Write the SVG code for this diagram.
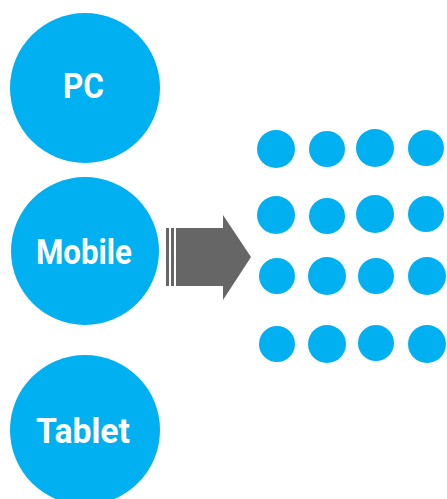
<svg xmlns="http://www.w3.org/2000/svg" width="447" height="499" viewBox="0 0 447 499">
<style>
.node{fill:#00B0F0}
.lbl{fill:#fff;font-family:Roboto,"Liberation Sans",sans-serif;font-weight:bold;font-size:35px;text-anchor:middle}
.dot{fill:#00B0F0}
.arr{fill:#666}
</style>
<rect width="447" height="499" fill="#fff"/>
<g id="pc"><circle class="node" cx="85" cy="88" r="75"/><text class="lbl" x="83.5" y="98" textLength="41" lengthAdjust="spacingAndGlyphs">PC</text></g>
<g id="mobile"><circle class="node" cx="85" cy="251" r="74"/><text class="lbl" x="84" y="264" textLength="96" lengthAdjust="spacingAndGlyphs">Mobile</text></g>
<g id="tablet"><circle class="node" cx="85" cy="430" r="75"/><text class="lbl" x="83" y="443" textLength="94" lengthAdjust="spacingAndGlyphs">Tablet</text></g>
<g id="connectors">
<rect class="arr" x="166" y="228" width="3" height="58"/>
<rect class="arr" x="171" y="228" width="3" height="58"/>
<polygon class="arr" points="176,228 223,228 223,215 251,257 223,300 223,286 176,286"/>
</g>
<g id="grid">
<circle class="dot" cx="276" cy="149" r="19"/>
<circle class="dot" cx="327" cy="149" r="18"/>
<circle class="dot" cx="375" cy="148" r="19"/>
<circle class="dot" cx="426" cy="148" r="18"/>
<circle class="dot" cx="276" cy="215" r="19"/>
<circle class="dot" cx="327" cy="216" r="18"/>
<circle class="dot" cx="375" cy="214" r="19"/>
<circle class="dot" cx="426" cy="214" r="18"/>
<circle class="dot" cx="277" cy="276" r="18"/>
<circle class="dot" cx="327" cy="276" r="19"/>
<circle class="dot" cx="376" cy="276" r="18"/>
<circle class="dot" cx="427" cy="276" r="19"/>
<circle class="dot" cx="277" cy="344" r="18"/>
<circle class="dot" cx="327" cy="344" r="19"/>
<circle class="dot" cx="376" cy="343" r="18"/>
<circle class="dot" cx="427" cy="344" r="19"/>
</g>
</svg>
